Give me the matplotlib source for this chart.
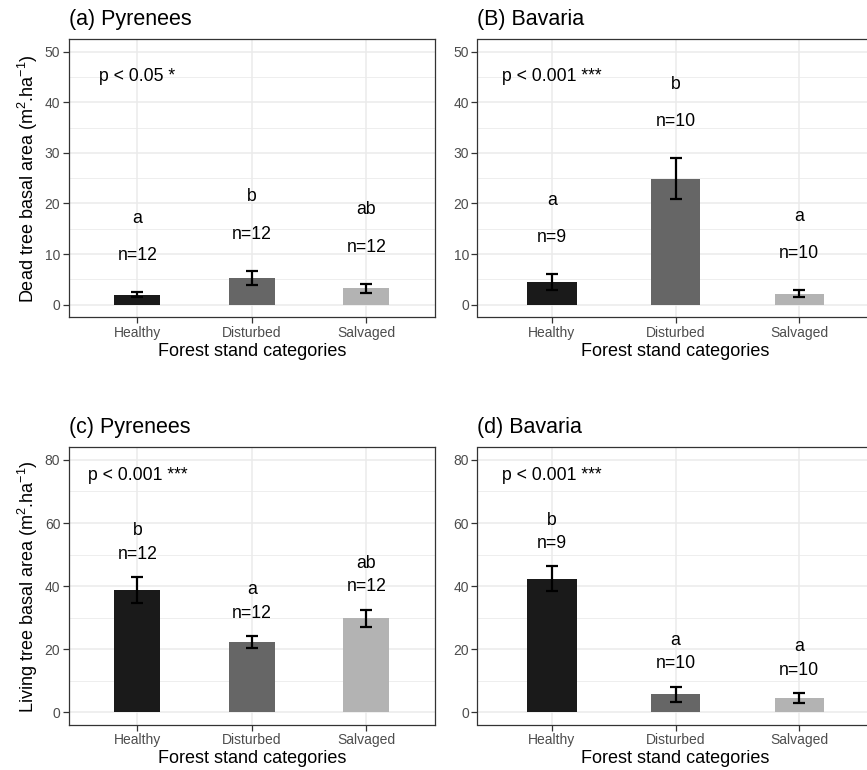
import matplotlib
matplotlib.use('Agg')
import matplotlib.pyplot as plt
from matplotlib.ticker import MultipleLocator

plt.rcParams['font.family'] = ['Liberation Sans', 'DejaVu Sans']
plt.rcParams['mathtext.fontset'] = 'custom'
plt.rcParams['mathtext.rm'] = 'Liberation Sans'
plt.rcParams['mathtext.it'] = 'Liberation Sans:italic'
plt.rcParams['mathtext.bf'] = 'Liberation Sans:bold'

# ---------------- data ----------------
categories = ['Healthy', 'Disturbed', 'Salvaged']
bar_colors = ['#1A1A1A', '#666666', '#B3B3B3']

dead_pyr_mean = [2.0, 5.3, 3.2]
dead_pyr_se = [0.5, 1.4, 0.95]
dead_pyr_n = [12, 12, 12]
dead_pyr_letters = ['a', 'b', 'ab']

dead_bav_mean = [4.4, 24.9, 2.2]
dead_bav_se = [1.6, 4.05, 0.7]
dead_bav_n = [9, 10, 10]
dead_bav_letters = ['a', 'b', 'a']

live_pyr_mean = [38.8, 22.4, 29.8]
live_pyr_se = [4.15, 1.85, 2.75]
live_pyr_n = [12, 12, 12]
live_pyr_letters = ['b', 'a', 'ab']

live_bav_mean = [42.4, 5.8, 4.5]
live_bav_se = [3.85, 2.4, 1.65]
live_bav_n = [9, 10, 10]
live_bav_letters = ['b', 'a', 'a']

titles = ['(a) Pyrenees', '(B) Bavaria', '(c) Pyrenees', '(d) Bavaria']
p_texts = ['p < 0.05 *', 'p < 0.001 ***', 'p < 0.001 ***', 'p < 0.001 ***']
ylabel_dead = r'Dead tree basal area (m$^{2}$.ha$^{-1}$)'
ylabel_live = r'Living tree basal area (m$^{2}$.ha$^{-1}$)'
xlabel = 'Forest stand categories'

# ---------------- layout ----------------
W, H = 867, 770
fig = plt.figure(figsize=(W / 100, H / 100), dpi=100)


def add_ax(l, r, t, b):
    return fig.add_axes([l / W, 1 - b / H, (r - l) / W, (b - t) / H])


panels = [
    dict(box=(68.7, 435.0, 39.0, 317.3), mean=dead_pyr_mean, se=dead_pyr_se, n=dead_pyr_n,
         letters=dead_pyr_letters, ymax=50, step=10, py=45, ylabel=ylabel_dead),
    dict(box=(477.5, 873.5, 39.0, 317.3), mean=dead_bav_mean, se=dead_bav_se, n=dead_bav_n,
         letters=dead_bav_letters, ymax=50, step=10, py=45, ylabel=None),
    dict(box=(68.7, 435.0, 447.3, 725.0), mean=live_pyr_mean, se=live_pyr_se, n=live_pyr_n,
         letters=live_pyr_letters, ymax=80, step=20, py=75, ylabel=ylabel_live),
    dict(box=(477.5, 873.5, 447.3, 725.0), mean=live_bav_mean, se=live_bav_se, n=live_bav_n,
         letters=live_bav_letters, ymax=80, step=20, py=75, ylabel=None),
]

grid_col = '#EBEBEB'
border_col = '#333333'
label_off_n = 7.2
label_off_letter = 7.4

for i, p in enumerate(panels):
    l, r, t, b = p['box']
    ax = add_ax(l, r, t, b)
    x = [1, 2, 3]
    ax.bar(x, p['mean'], width=0.4, color=bar_colors, zorder=2)
    ax.errorbar(x, p['mean'], yerr=p['se'], fmt='none', ecolor='black',
                elinewidth=1.6, capsize=4.3, capthick=1.6, zorder=3)
    for xi, m, s, n, let in zip(x, p['mean'], p['se'], p['n'], p['letters']):
        yn = m + s + label_off_n
        ax.text(xi, yn, f'n={n}', ha='center', va='center', fontsize=12.7, color='black', zorder=4)
        ax.text(xi, yn + label_off_letter, let, ha='center', va='center', fontsize=12.7,
                color='black', zorder=4)
    ax.text(1, p['py'], p_texts[i], ha='center', va='center', fontsize=12.7, color='black')

    ymax = p['ymax']
    ax.set_xlim(0.4, 3.6)
    ax.set_ylim(-0.05 * ymax, 1.05 * ymax)
    ax.set_xticks(x)
    ax.set_xticklabels(categories)
    ax.yaxis.set_major_locator(MultipleLocator(p['step']))
    ax.yaxis.set_minor_locator(MultipleLocator(p['step'] / 2))
    ax.set_axisbelow(True)
    ax.grid(which='major', axis='both', color=grid_col, linewidth=1.1, zorder=0)
    ax.grid(which='minor', axis='y', color=grid_col, linewidth=0.6, zorder=0)
    ax.tick_params(axis='both', which='major', length=4.5, width=0.9, color=border_col,
                   labelsize=10, labelcolor='#4D4D4D', pad=1.5)
    ax.tick_params(axis='y', which='minor', length=0)
    for sp in ax.spines.values():
        sp.set_color(border_col)
        sp.set_linewidth(0.9)

    ax.set_title(titles[i], loc='left', fontsize=15.5, pad=10, color='black')
    ax.set_xlabel(xlabel, fontsize=13, va='center')
    ax.xaxis.set_label_coords(0.5, -(33.9 / (b - t)))
    if p['ylabel']:
        ax.set_ylabel(p['ylabel'], fontsize=13, va='center')
        ax.yaxis.set_label_coords((28 - l) / (r - l), 0.5)

fig.savefig('out.png', dpi=100, facecolor='white')
